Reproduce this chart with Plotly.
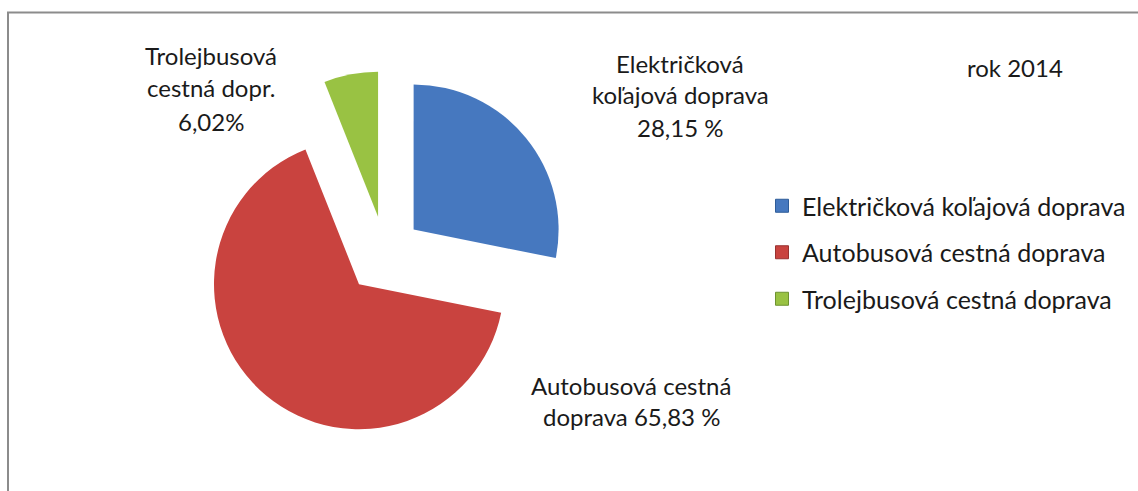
import plotly.graph_objects as go

# ---- data ----
categories = ["Električková koľajová doprava", "Autobusová cestná doprava", "Trolejbusová cestná doprava"]
shares = [28.15, 65.83, 6.02]
label_lines = [
    ["Električková", "koľajová doprava", "28,15 %"],
    ["Autobusová cestná", "doprava 65,83 %"],
    ["Trolejbusová", "cestná dopr.", "6,02%"],
]
title_text = "rok 2014"

# ---- style ----
colors = ["#4678BF", "#C9433F", "#99C243"]
edge_colors = ["#2E5C99", "#983230", "#6E9230"]
pulls = [0.255, 0.28, 0.255]
FONT = "Lato"
W, H = 1138, 491

def px(x):
    return x / W

def py(y):
    return 1 - y / H

# pie geometry (pixels)
cx, cy, r = 385, 253, 145
half = r * (1 + max(pulls))

fig = go.Figure()
fig.add_trace(go.Pie(
    labels=categories,
    values=shares,
    sort=False,
    direction="clockwise",
    rotation=0,
    pull=pulls,
    marker=dict(colors=colors, line=dict(width=0)),
    textinfo="none",
    hoverinfo="label+percent",
    showlegend=False,
    domain=dict(x=[px(cx - half), px(cx + half)], y=[py(cy + half), py(cy - half)]),
))

# legend entries (one per category)
for i, (name, col, ec) in enumerate(zip(categories, colors, edge_colors)):
    fig.add_trace(go.Scatter(
        x=[None], y=[None], mode="markers", name=name,
        marker=dict(symbol="square", size=13, color=col, line=dict(color=ec, width=1)),
        legendgroup=f"g{i}", showlegend=True, hoverinfo="skip",
    ))

# data labels (line by line)
label_pos = [
    (680, [63, 95, 127]),
    (631, [385, 416]),
    (211, [55, 88, 122]),
]
annotations = []
for lines, (lx, ys) in zip(label_lines, label_pos):
    for t, yy in zip(lines, ys):
        annotations.append(dict(
            x=px(lx), y=py(yy), xref="paper", yref="paper", text=t, showarrow=False,
            xanchor="center", yanchor="middle", font=dict(family=FONT, size=24, color="#1a1a1a"),
        ))
annotations.append(dict(
    x=px(1015), y=py(68), xref="paper", yref="paper", text=title_text, showarrow=False,
    xanchor="center", yanchor="middle", font=dict(family=FONT, size=24, color="#1a1a1a"),
))

fig.update_layout(
    width=W, height=H,
    margin=dict(l=0, r=0, t=0, b=0),
    paper_bgcolor="white", plot_bgcolor="white",
    xaxis=dict(visible=False), yaxis=dict(visible=False),
    annotations=annotations,
    legend=dict(
        x=px(762), y=py(183), xanchor="left", yanchor="top",
        font=dict(family=FONT, size=25, color="#1a1a1a"),
        tracegroupgap=11, bgcolor="rgba(0,0,0,0)",
    ),
    shapes=[dict(
        type="rect", xref="paper", yref="paper",
        x0=px(8), x1=1.2, y0=-0.2, y1=py(12.5),
        line=dict(color="#8C8C8C", width=2), fillcolor="rgba(0,0,0,0)", layer="below",
    )],
)

fig.write_html("out.html", config={"displayModeBar": False},
               post_script="document.body.style.margin='0px';")
